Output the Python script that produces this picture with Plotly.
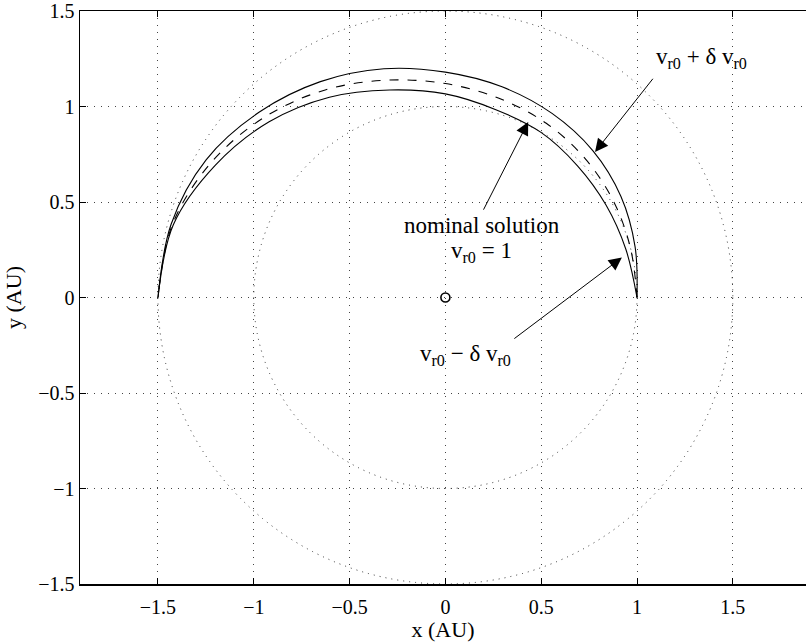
import math
import plotly.graph_objects as go

# ---- data (polar readings: angle in degrees, radius in AU) ----
theta_deg = [0, 15, 30, 45, 60, 75, 90, 105, 120, 135, 150, 165, 180]
r_upper   = [1.0, 1.025, 1.058, 1.088, 1.113, 1.142, 1.18, 1.24, 1.305, 1.373, 1.442, 1.482, 1.5]
r_nominal = [1.0, 1.0, 1.012, 1.03, 1.053, 1.08, 1.12, 1.178, 1.255, 1.335, 1.412, 1.475, 1.5]
r_lower   = [1.0, 0.975, 0.968, 0.975, 0.998, 1.018, 1.066, 1.125, 1.211, 1.301, 1.386, 1.47, 1.5]

orbit_radii = [1.0, 1.5]
sun_x = [0.0]
sun_y = [0.0]

tick_vals = [-1.5, -1, -0.5, 0, 0.5, 1, 1.5]
tick_text = ["\u22121.5", "\u22121", "\u22120.5", "0", "0.5", "1", "1.5"]

FONT = "Liberation Serif, Times New Roman, serif"


def to_xy(th, rr):
    xs = [r * math.cos(math.radians(t)) for t, r in zip(th, rr)]
    ys = [r * math.sin(math.radians(t)) for t, r in zip(th, rr)]
    return xs, ys


fig = go.Figure()

for rr, dash in [(r_upper, "solid"), (r_nominal, "dash"), (r_lower, "solid")]:
    xs, ys = to_xy(theta_deg, rr)
    fig.add_trace(go.Scatter(x=xs, y=ys, mode="lines",
                             line=dict(color="black", width=1.1, dash=dash, shape="spline", smoothing=1.0),
                             showlegend=False, hoverinfo="skip"))

fig.add_trace(go.Scatter(x=sun_x, y=sun_y, mode="markers",
                         marker=dict(symbol="circle-open", size=9, color="black", line=dict(width=1.6, color="black")),
                         showlegend=False, hoverinfo="skip"))

for r in orbit_radii:
    fig.add_shape(type="circle", xref="x", yref="y", x0=-r, y0=-r, x1=r, y1=r,
                  line=dict(color="#333333", width=1, dash="1px,5px"), layer="below")

ann_font = dict(family=FONT, size=23, color="black")

# arrows (head at x,y ; tail at ax,ay)
arrows = [
    (0.781, 0.762, 1.089, 1.153),
    (0.432, 0.919, 0.195, 0.452),
    (0.921, 0.209, 0.352, -0.221),
]
for hx, hy, tx, ty in arrows:
    fig.add_annotation(x=hx, y=hy, ax=tx, ay=ty, xref="x", yref="y", axref="x", ayref="y",
                       showarrow=True, arrowhead=2, arrowsize=2.6, arrowwidth=1, arrowcolor="black", text="")

fig.add_annotation(x=1.09, y=1.255, xref="x", yref="y", text="v<sub>r0</sub> + \u03b4 v<sub>r0</sub>",
                   showarrow=False, xanchor="left", yanchor="middle", font=ann_font)
fig.add_annotation(x=0.19, y=0.375, xref="x", yref="y", text="nominal solution",
                   showarrow=False, xanchor="center", yanchor="middle", font=ann_font)
fig.add_annotation(x=0.19, y=0.24, xref="x", yref="y", text="v<sub>r0</sub> = 1",
                   showarrow=False, xanchor="center", yanchor="middle", font=ann_font)
fig.add_annotation(x=0.103, y=-0.30, xref="x", yref="y", text="v<sub>r0</sub> \u2212 \u03b4 v<sub>r0</sub>",
                   showarrow=False, xanchor="center", yanchor="middle", font=ann_font)

axis_common = dict(
    showgrid=True, gridcolor="#444444", gridwidth=1, griddash="1px,6px",
    zeroline=False, showline=True, linecolor="black", linewidth=1.5,
    ticks="inside", ticklen=6, tickwidth=1, tickcolor="black",
    tickvals=tick_vals, ticktext=tick_text, ticklabeloverflow="allow",
    tickfont=dict(family=FONT, size=20, color="black"),
)

fig.update_layout(
    width=806, height=643,
    margin=dict(l=80, r=0, t=9, b=59),
    paper_bgcolor="white", plot_bgcolor="white",
    xaxis=dict(range=[-1.907, 1.882], mirror="ticks", ticklabelstandoff=4,
               title=dict(text="x (AU)", font=dict(family=FONT, size=22, color="black"), standoff=4),
               **axis_common),
    yaxis=dict(range=[-1.5, 1.5], mirror=False,
               title=dict(text="y (AU)", font=dict(family=FONT, size=22, color="black"), standoff=10),
               **axis_common),
)

fig.write_html("out.html", config={"displayModeBar": False, "staticPlot": True},
               post_script="document.body.style.margin='0';document.body.style.overflow='hidden';")
